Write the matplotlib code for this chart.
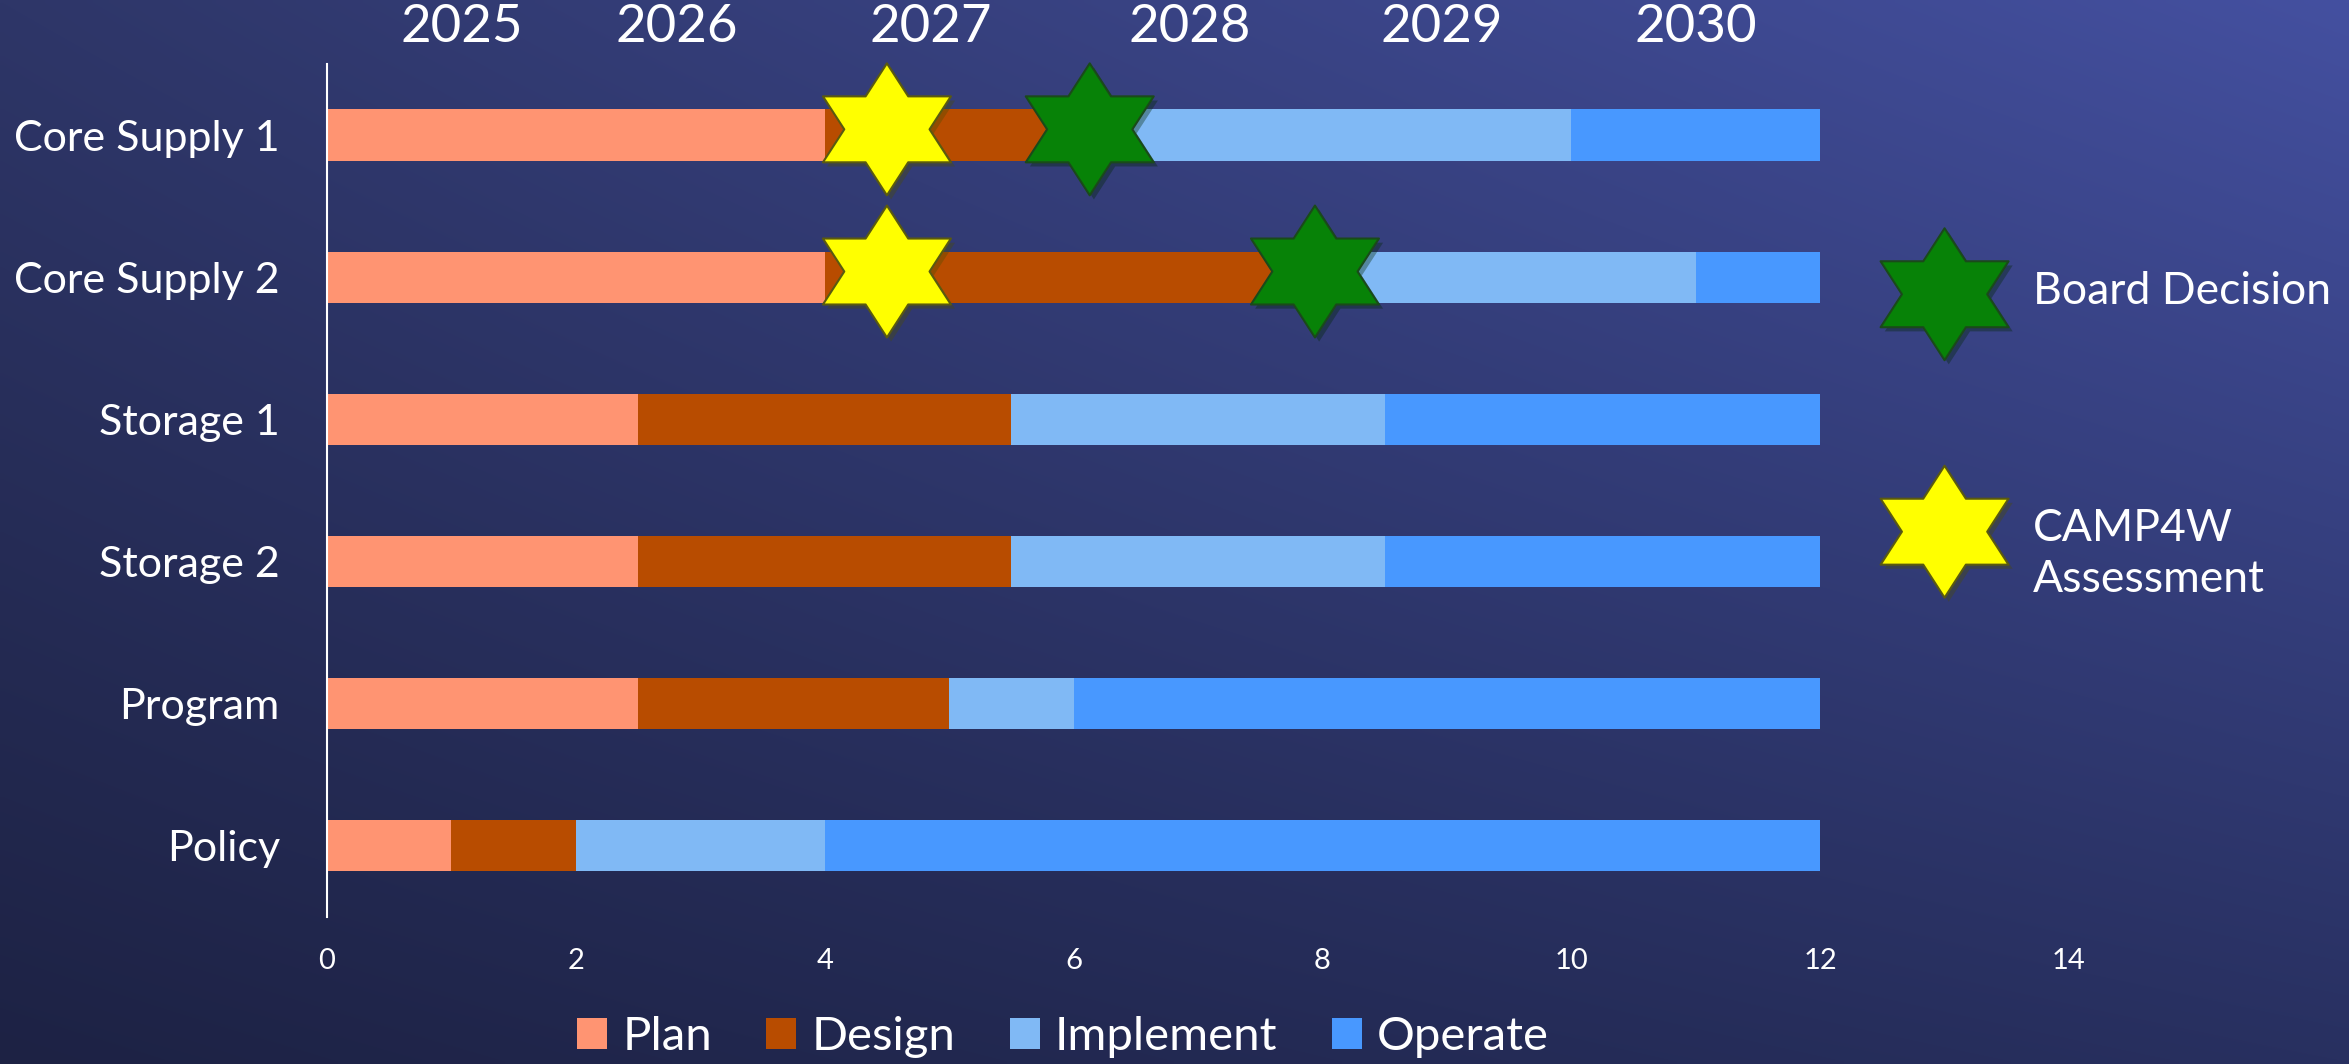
import numpy as np
import matplotlib
matplotlib.use('Agg')
import matplotlib.pyplot as plt
from matplotlib.path import Path
import matplotlib.patheffects as pe

plt.rcParams['font.family'] = ['Lato', 'DejaVu Sans']

# donnees du planning
categories = ['Core Supply 1', 'Core Supply 2', 'Storage 1', 'Storage 2', 'Program', 'Policy']
plan = [4, 4, 2.5, 2.5, 2.5, 1]
design = [2, 4, 3, 3, 2.5, 1]
implement = [4, 3, 3, 3, 1, 2]
operate = [2, 1, 3.5, 3.5, 6, 8]
phases = ['Plan', 'Design', 'Implement', 'Operate']
colors = ['#FF9472', '#B84C00', '#80B9F5', '#4898FF']

# jalons (etoiles)
board_x = [6.13, 7.94]
board_y = [5.04, 4.04]
camp_x = [4.5, 4.5]
camp_y = [5.04, 4.04]
key_x = [13.0, 13.0]
key_y = [3.88, 2.21]
key_text_y = [3.90, 2.05]
key_labels = ['Board Decision', 'CAMP4W\nAssessment']

years = ['2025', '2026', '2027', '2028', '2029', '2030']
year_pos = [1.08, 2.81, 4.85, 6.93, 8.96, 11.0]

fig = plt.figure(figsize=(23.49, 10.64), dpi=100)

# fond en degrade
bg = fig.add_axes([0, 0, 1, 1], zorder=-10)
tl = np.array([0x2e, 0x36, 0x68]) / 255
tr = np.array([0x44, 0x50, 0xa0]) / 255
bl = np.array([0x1d, 0x22, 0x44]) / 255
br = np.array([0x28, 0x30, 0x60]) / 255
u = np.linspace(0, 1, 400)[None, :, None]
v = np.linspace(0, 1, 200)[:, None, None]
img = (1 - v) * ((1 - u) * tl + u * tr) + v * ((1 - u) * bl + u * br)
bg.imshow(img, aspect='auto', extent=[0, 1, 0, 1], interpolation='bilinear')
bg.axis('off')

ax = fig.add_axes([0.1392, 0.1382, 0.7416, 0.8017])
ax.set_facecolor('none')

ypos = np.arange(len(categories))[::-1]
left = np.zeros(len(categories))
for name, vals, c in zip(phases, [plan, design, implement, operate], colors):
    ax.barh(ypos, vals, left=left, height=0.36, color=c, label=name, zorder=2)
    left = left + np.array(vals)

# etoile a six branches (un peu elargie)
ang = np.deg2rad(np.arange(12) * 30 + 90)
rad = np.where(np.arange(12) % 2 == 0, 1.0, 0.577)
verts = np.column_stack([1.12 * rad * np.cos(ang), rad * np.sin(ang)])
star = Path(np.vstack([verts, verts[:1]]), closed=True)
shadow = [pe.SimplePatchShadow(offset=(3, -3), alpha=0.35), pe.Normal()]

yellow = dict(linestyle='none', marker=star, ms=95, mfc='#FFFF00', mec='#5A5A10',
              mew=1.5, zorder=5, clip_on=False, path_effects=shadow)
green = dict(linestyle='none', marker=star, ms=95, mfc='#078207', mec='#1A4A1A',
             mew=1.5, zorder=5, clip_on=False, path_effects=shadow)
ax.plot(camp_x, camp_y, **yellow)
ax.plot(board_x, board_y, **green)
ax.plot(key_x[:1], key_y[:1], **green)
ax.plot(key_x[1:], key_y[1:], **yellow)
for x, y, t in zip(key_x, key_text_y, key_labels):
    ax.text(x + 0.71, y, t, color='white', fontsize=32, va='center', ha='left',
            linespacing=1.3)

ax.set_xlim(0, 14)
ax.set_ylim(-0.5, 5.5)
ax.set_xticks(range(0, 15, 2))
ax.set_yticks(ypos, labels=categories)
ax.tick_params(axis='x', length=0, pad=22, labelsize=21, labelcolor='white')
ax.tick_params(axis='y', length=0, pad=34, labelsize=31, labelcolor='white')
for s in ['top', 'right', 'bottom']:
    ax.spines[s].set_visible(False)
ax.spines['left'].set_color('white')
ax.spines['left'].set_linewidth(1.5)

top = ax.secondary_xaxis('top')
top.set_xticks(year_pos, labels=years)
top.tick_params(length=0, pad=9, labelsize=38, labelcolor='white')
top.spines['top'].set_visible(False)

ax.legend(loc='center', bbox_to_anchor=(1063 / 2349, 1 - 1037 / 1064),
          bbox_transform=fig.transFigure, ncol=4, frameon=False, fontsize=34,
          labelcolor='white', handlelength=0.64, handleheight=0.64,
          handletextpad=0.32, columnspacing=1.15)

fig.savefig('out.png', dpi=100)
